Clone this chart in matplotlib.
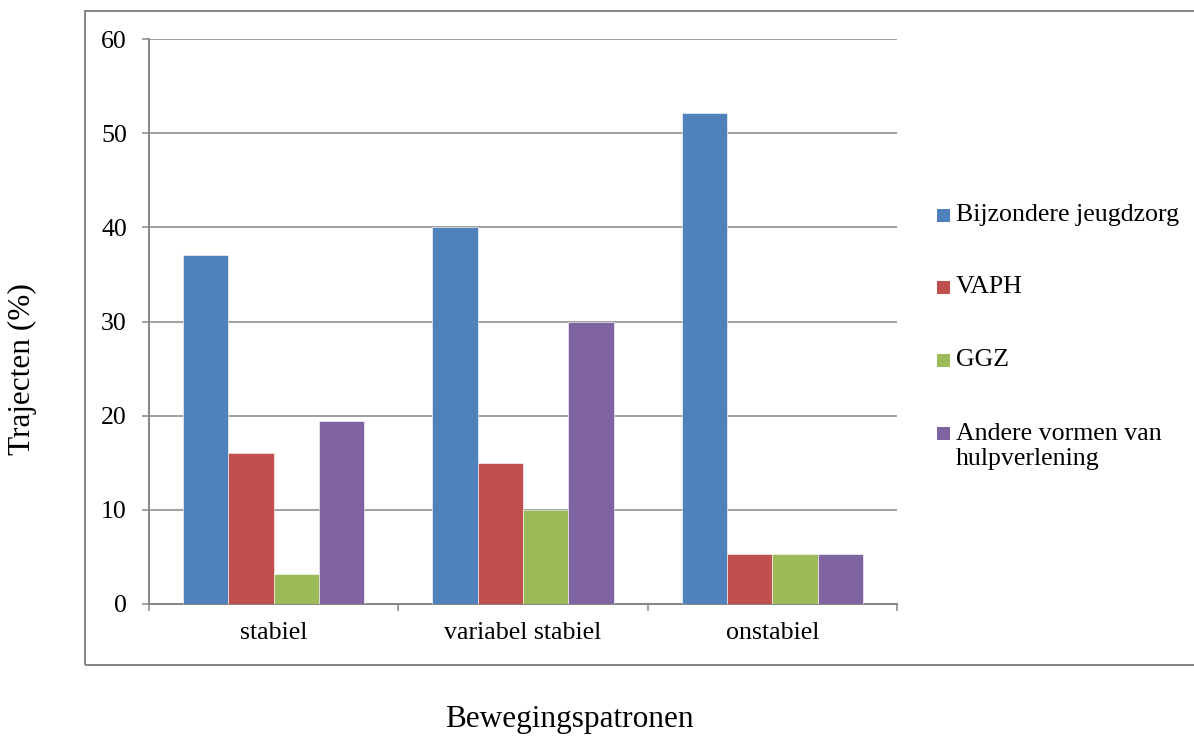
import numpy as np
import matplotlib
matplotlib.use("Agg")
import matplotlib.pyplot as plt
from matplotlib.patches import Rectangle

plt.rcParams['font.family'] = ['Liberation Serif', 'DejaVu Serif']

# gegevens
categories = ['stabiel', 'variabel stabiel', 'onstabiel']
series_names = ['Bijzondere jeugdzorg', 'VAPH', 'GGZ',
                'Andere vormen van\nhulpverlening']
bijzondere = [37.1, 40.0, 52.1]
vaph = [16.0, 15.0, 5.3]
ggz = [3.2, 10.0, 5.3]
andere = [19.4, 30.0, 5.3]
colors = ['#4F81BD', '#C0504D', '#9BBB59', '#8064A2']
yticks = [0, 10, 20, 30, 40, 50, 60]

W, H = 1194, 738
fig = plt.figure(figsize=(W / 100, H / 100), dpi=100)

def fx(px):
    return px / W

def fy(py):
    return 1 - py / H

grey = '#868686'

# kader rond de grafiek
fig.add_artist(Rectangle((fx(85), fy(665)), fx(1200) - fx(85), fy(11) - fy(665),
                         transform=fig.transFigure, fill=False,
                         edgecolor=grey, linewidth=1.4))

ax = fig.add_axes([fx(149), fy(604), fx(897) - fx(149), fy(39) - fy(604)])

x = np.arange(len(categories))
bw = 1 / 5.5
for i, vals in enumerate([bijzondere, vaph, ggz, andere]):
    ax.bar(x + (i - 1.5) * bw, vals, width=bw, color=colors[i],
           edgecolor='white', linewidth=0.4, zorder=3)

ax.set_xlim(-0.5, len(categories) - 0.5)
ax.set_ylim(0, 60)
ax.set_yticks(yticks)
ax.yaxis.grid(True, color=grey, linewidth=1.1, zorder=0)
ax.set_axisbelow(True)

ax.set_xticks(np.arange(len(categories) + 1) - 0.5)
ax.set_xticklabels([])
ax.set_xticks(x, minor=True)
ax.set_xticklabels(categories, minor=True)
ax.tick_params(axis='x', which='major', length=5, width=1.1, color=grey)
ax.tick_params(axis='x', which='minor', length=0, pad=13, labelsize=18.6)
ax.tick_params(axis='y', length=5, width=1.1, color=grey, pad=11, labelsize=18.6)

for side in ['top', 'right']:
    ax.spines[side].set_visible(False)
for side in ['left', 'bottom']:
    ax.spines[side].set_color(grey)
    ax.spines[side].set_linewidth(1.4)

fig.text(fx(22), fy(369), 'Trajecten (%)', rotation=90, ha='center',
         va='center', fontsize=22.5)
fig.text(fx(569), fy(720), 'Bewegingspatronen', ha='center', va='center',
         fontsize=22.5)

# legenda
legend_y = [215, 287, 360, 433]
for name, col, ly in zip(series_names, colors, legend_y):
    fig.add_artist(Rectangle((fx(937), fy(ly + 7)), fx(13), 13 / H,
                             transform=fig.transFigure, facecolor=col,
                             edgecolor='none'))
    if '\n' in name:
        fig.text(fx(956), fy(ly - 10), name, ha='left', va='top',
                 fontsize=18.6, linespacing=1.2)
    else:
        fig.text(fx(956), fy(ly), name, ha='left', va='center', fontsize=18.6)

fig.savefig('out.png', dpi=100)
